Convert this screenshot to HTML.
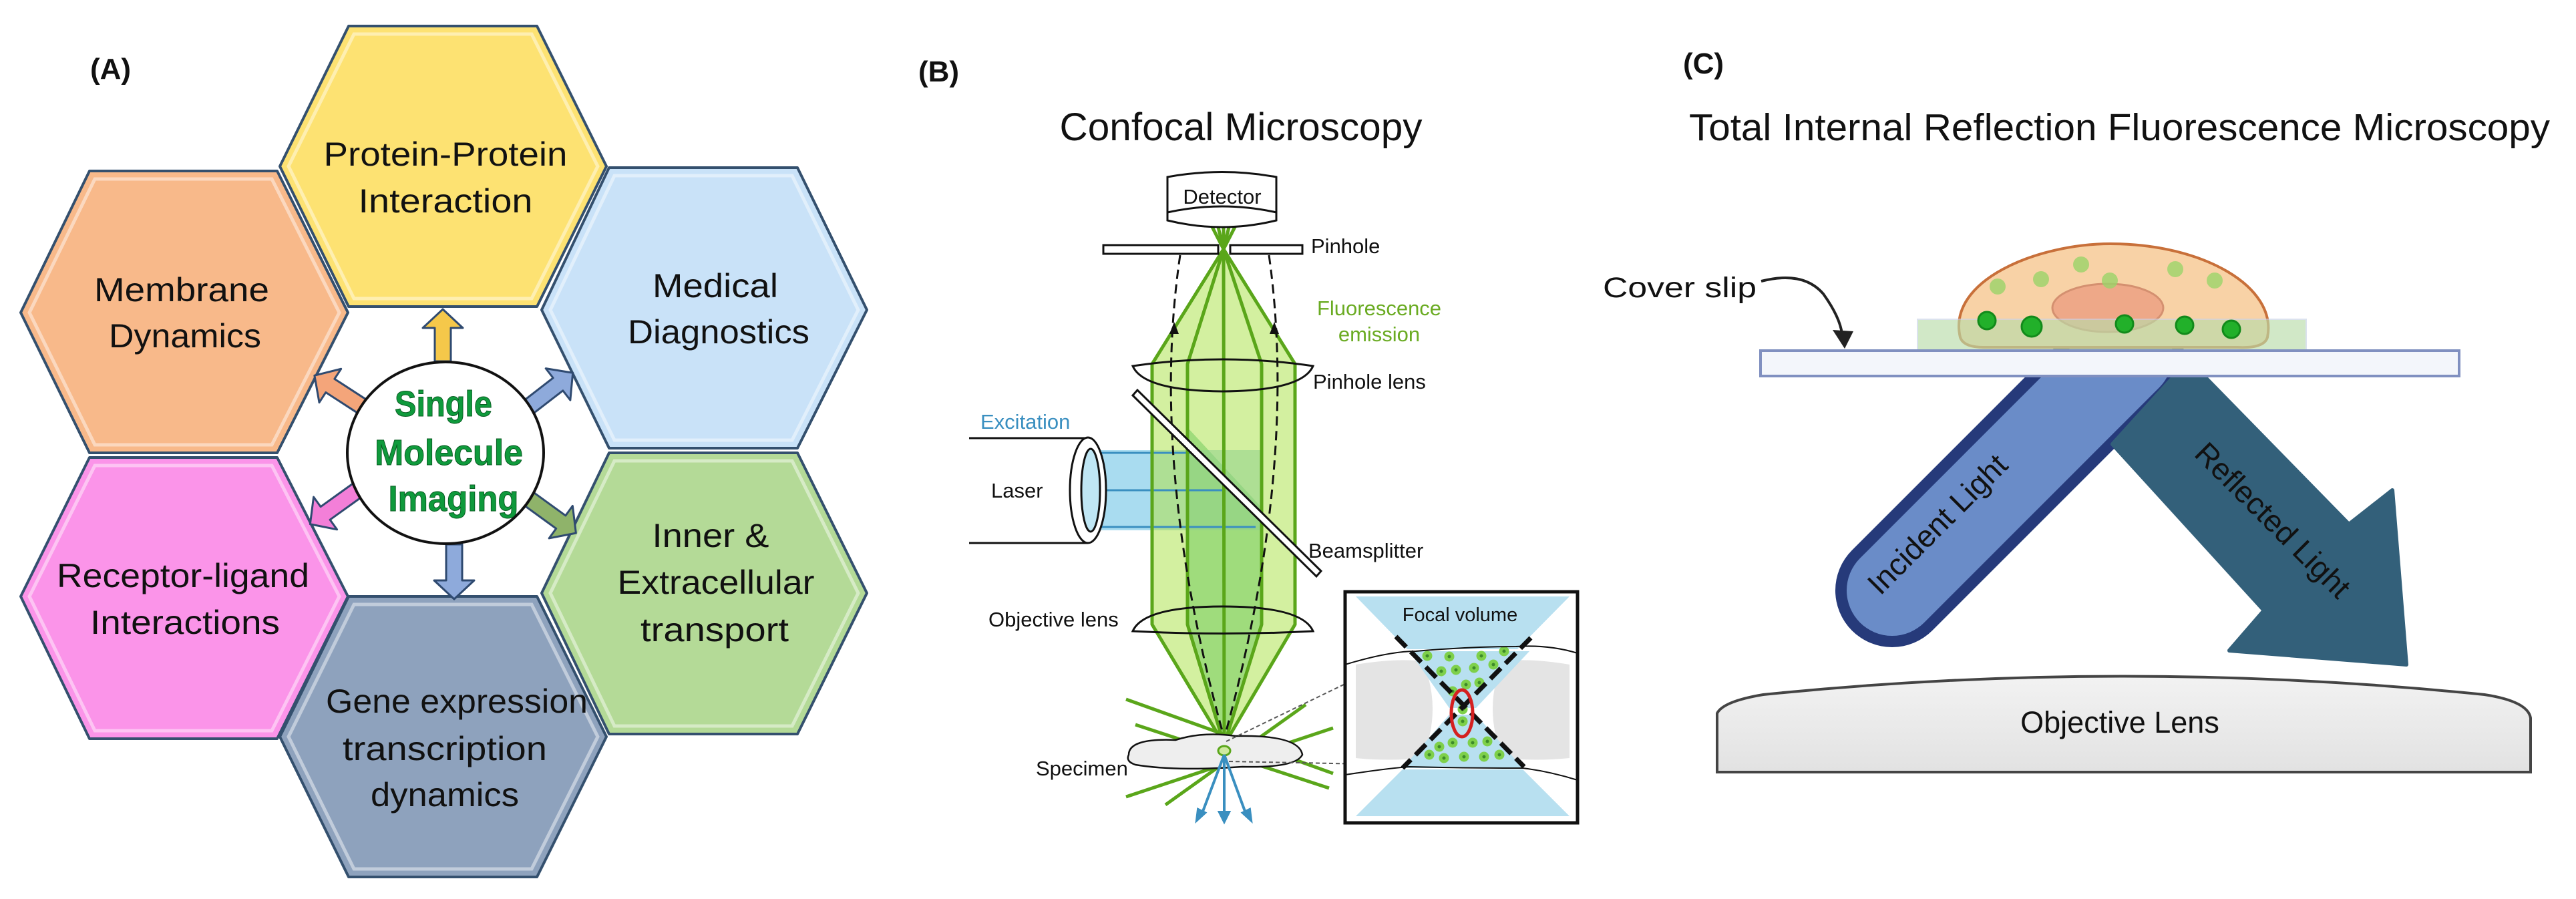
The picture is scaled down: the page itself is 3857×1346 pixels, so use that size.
<!DOCTYPE html>
<html><head><meta charset="utf-8"><style>
html,body{margin:0;padding:0;background:#fff;}
svg{display:block;}
text{font-family:"Liberation Sans",sans-serif;}
</style></head><body>
<svg width="3857" height="1346" viewBox="0 0 3857 1346" xmlns="http://www.w3.org/2000/svg">
<defs>
<linearGradient id="lg" x1="0" y1="0" x2="0" y2="1"><stop offset="0" stop-color="#f2f2f2"/><stop offset="1" stop-color="#e2e2e2"/></linearGradient>
<g id="arr"><path d="M0,-12 L0,12 L-1,12 Z"/></g>
</defs>

<!-- ================= PANEL A ================= -->
<text x="135" y="118" font-size="44" font-weight="bold" fill="#111">(A)</text>
<g stroke="#34506e" stroke-width="4" stroke-linejoin="round">
<polygon points="419,249 522,39 804,39 908,249 804,459 522,459" fill="#fde272"/>
<polygon points="31,468 134,256 415,256 521,468 415,678 134,678" fill="#f8b98a"/>
<polygon points="811,464 912,251 1194,251 1298,464 1194,671 912,671" fill="#c9e2f8"/>
<polygon points="31,893 134,685 415,685 521,893 415,1106 134,1106" fill="#fb94e9"/>
<polygon points="811,888 912,678 1194,678 1298,888 1194,1099 912,1099" fill="#b4da97"/>
<polygon points="419,1103 522,893 804,893 908,1103 804,1313 522,1313" fill="#8ea2bd"/>
</g>
<g fill="none" stroke="#ffffff" stroke-opacity="0.45" stroke-width="5">
<polygon points="432,249 530,51 796,51 895,249 796,447 530,447"/>
<polygon points="44,468 142,268 407,268 508,468 407,666 142,666"/>
<polygon points="824,464 920,263 1186,263 1285,464 1186,659 920,659"/>
<polygon points="44,893 142,697 407,697 508,893 407,1094 142,1094"/>
<polygon points="824,888 920,690 1186,690 1285,888 1186,1087 920,1087"/>
<polygon points="432,1103 530,905 796,905 895,1103 796,1301 530,1301"/>
</g>
<g font-size="50" fill="#111" text-anchor="middle">
<text x="667" y="248" textLength="365" lengthAdjust="spacingAndGlyphs">Protein-Protein</text>
<text x="667" y="318" textLength="261" lengthAdjust="spacingAndGlyphs">Interaction</text>
<text x="272" y="451" textLength="262" lengthAdjust="spacingAndGlyphs">Membrane</text>
<text x="277" y="520" textLength="228" lengthAdjust="spacingAndGlyphs">Dynamics</text>
<text x="1071" y="445" textLength="188" lengthAdjust="spacingAndGlyphs">Medical</text>
<text x="1076" y="514" textLength="272" lengthAdjust="spacingAndGlyphs">Diagnostics</text>
<text x="274" y="879" textLength="378" lengthAdjust="spacingAndGlyphs">Receptor-ligand</text>
<text x="277" y="949" textLength="284" lengthAdjust="spacingAndGlyphs">Interactions</text>
<text x="1064" y="819" textLength="175" lengthAdjust="spacingAndGlyphs">Inner &amp;</text>
<text x="1072" y="889" textLength="295" lengthAdjust="spacingAndGlyphs">Extracellular</text>
<text x="1070" y="960" textLength="222" lengthAdjust="spacingAndGlyphs">transport</text>
<text x="684" y="1067" textLength="392" lengthAdjust="spacingAndGlyphs">Gene expression</text>
<text x="666" y="1138" textLength="306" lengthAdjust="spacingAndGlyphs">transcription</text>
<text x="666" y="1207" textLength="222" lengthAdjust="spacingAndGlyphs">dynamics</text>
</g>
<!-- arrows -->
<g stroke="#2f4a70" stroke-width="3" stroke-linejoin="round">
<path transform="translate(663,541) rotate(-90)" d="M0,-12 L50,-12 L50,-30 L78,0 L50,30 L50,12 L0,12 Z" fill="#f5c84a"/>
<path transform="translate(680,815) rotate(90)" d="M0,-12 L54,-12 L54,-30 L82,0 L54,30 L54,12 L0,12 Z" fill="#8eaadb"/>
<path transform="translate(543,609) rotate(213)" d="M0,-12 L58,-12 L58,-30 L86,0 L58,30 L58,12 L0,12 Z" fill="#f4a57a"/>
<path transform="translate(792,609) rotate(-37.7)" d="M0,-12 L55,-12 L55,-30 L83,0 L55,30 L55,12 L0,12 Z" fill="#8eaadb"/>
<path transform="translate(535,734) rotate(144.3)" d="M0,-12 L59,-12 L59,-30 L87,0 L59,30 L59,12 L0,12 Z" fill="#f37fd8"/>
<path transform="translate(792,747) rotate(36)" d="M0,-12 L59,-12 L59,-30 L87,0 L59,30 L59,12 L0,12 Z" fill="#8fb36a"/>
</g>
<ellipse cx="667" cy="678" rx="147" ry="136" fill="#fff" stroke="#111" stroke-width="4"/>
<g font-size="54" font-weight="bold" fill="#0f9a3c" text-anchor="middle" stroke="#0a5a22" stroke-width="1">
<text x="664" y="623" textLength="146" lengthAdjust="spacingAndGlyphs">Single</text>
<text x="672" y="696" textLength="222" lengthAdjust="spacingAndGlyphs">Molecule</text>
<text x="679" y="765" textLength="195" lengthAdjust="spacingAndGlyphs">Imaging</text>
</g>

<!-- ================= PANEL B ================= -->
<text x="1375" y="122" font-size="44" font-weight="bold" fill="#111">(B)</text>
<text x="1858" y="210" font-size="58" fill="#111" text-anchor="middle" textLength="543" lengthAdjust="spacingAndGlyphs">Confocal Microscopy</text>

<!-- laser tube -->
<path d="M1451,656 L1629,656 M1451,813 L1629,813" stroke="#111" stroke-width="3" fill="none"/>
<rect x="1629" y="674" width="260" height="120" fill="#a9dcf0"/>
<!-- green envelope -->
<polygon points="1832,373 1939,545 1939,935 1833,1115 1725,935 1725,545" fill="#d3f0a0"/>
<polygon points="1778,640 1889,760 1889,935 1833,1110 1778,935" fill="#9fdc7c"/>
<rect x="1725" y="674" width="164" height="120" fill="#8fd28a" opacity="0.55"/>
<g stroke="#3a8fc0" stroke-width="3"><path d="M1629,678 H1790 M1629,734 H1835 M1629,789 H1880"/></g>
<g stroke="#5aa61a" stroke-width="5" fill="none" stroke-linejoin="round">
<path d="M1832,373 L1725,545 L1725,935 L1833,1115"/>
<path d="M1832,373 L1778,545 L1778,935 L1833,1115"/>
<path d="M1832,373 L1833,1115"/>
<path d="M1832,373 L1889,545 L1889,935 L1833,1115"/>
<path d="M1832,373 L1939,545 L1939,935 L1833,1115"/>
<path d="M1832,373 L1812,334 M1832,373 L1822,332 M1832,373 L1832,332 M1832,373 L1842,332 M1832,373 L1852,334"/>
<path d="M1686,1047 L1996,1158 M1686,1193 L1996,1090 M1700,1085 L1990,1180 M1745,1205 L1955,1055"/>
</g>
<g stroke="#111" stroke-width="3" fill="none" stroke-dasharray="14 8">
<path d="M1767,382 Q1720,700 1833,1105"/>
<path d="M1900,382 Q1945,700 1833,1105"/>
</g>
<g fill="#111"><path d="M1758,482 l-7,18 h14 z"/><path d="M1908,482 l-7,18 h14 z"/></g>
<!-- laser ring -->
<ellipse cx="1629" cy="734" rx="27" ry="79" fill="#fff" stroke="#111" stroke-width="3"/>
<ellipse cx="1633" cy="734" rx="14" ry="62" fill="#bfe6f4" stroke="#111" stroke-width="3"/>
<!-- detector -->
<path d="M1748,265 Q1830,250 1911,265 L1911,330 Q1830,350 1748,330 Z" fill="#fff" stroke="#111" stroke-width="3"/>
<path d="M1748,318 Q1830,300 1911,318" fill="none" stroke="#111" stroke-width="3"/>
<text x="1830" y="305" font-size="31" fill="#111" text-anchor="middle">Detector</text>
<!-- pinhole -->
<path d="M1652,367 H1824 V380 H1652 Z M1842,367 H1950 V380 H1842 Z" fill="#fff" stroke="#111" stroke-width="3"/>
<text x="1963" y="379" font-size="31" fill="#111">Pinhole</text>
<text x="2065" y="472" font-size="31" fill="#6aab22" text-anchor="middle">Fluorescence</text>
<text x="2065" y="511" font-size="31" fill="#6aab22" text-anchor="middle">emission</text>
<!-- lenses -->
<path d="M1696,548 Q1831,528 1966,548 Q1950,585 1831,586 Q1712,585 1696,548 Z" fill="none" stroke="#111" stroke-width="3"/>
<text x="1966" y="582" font-size="31" fill="#111">Pinhole lens</text>
<path d="M1696,945 Q1712,908 1831,908 Q1950,908 1966,945 Q1831,952 1696,945 Z" fill="none" stroke="#111" stroke-width="3"/>
<text x="1480" y="938" font-size="31" fill="#111">Objective lens</text>
<!-- beamsplitter -->
<polygon points="1696,592 1703,584 1978,855 1971,863" fill="#fff" stroke="#111" stroke-width="3"/>
<text x="1959" y="835" font-size="31" fill="#111">Beamsplitter</text>
<text x="1468" y="642" font-size="31" fill="#3a8fc0">Excitation</text>
<text x="1484" y="745" font-size="31" fill="#111">Laser</text>
<!-- specimen -->
<path d="M1690,1130 Q1690,1105 1760,1108 Q1800,1095 1850,1102 Q1945,1100 1950,1130 Q1940,1150 1860,1148 Q1760,1155 1700,1145 Q1685,1140 1690,1130 Z" fill="#eeeeee" stroke="#111" stroke-width="2.5"/>
<ellipse cx="1833" cy="1124" rx="9" ry="7" fill="#cfe8a0" stroke="#5aa61a" stroke-width="3"/>
<text x="1551" y="1161" font-size="31" fill="#111">Specimen</text>
<g stroke="#3a8fc0" stroke-width="4" fill="#3a8fc0">
<path d="M1833,1130 L1799,1220 M1833,1130 L1833,1220 M1833,1130 L1866,1220" fill="none"/>
<path d="M1792,1228 l2,-16 l10,5 z M1833,1230 l-7,-14 h14 z M1873,1228 l-12,-11 l10,-5 z"/>
</g>
<g stroke="#555" stroke-width="2" stroke-dasharray="6 4" fill="none">
<path d="M1836,1110 L2105,980"/><path d="M1840,1140 L2100,1145"/>
</g>
<!-- inset -->
<rect x="2014" y="886" width="348" height="346" fill="#fff" stroke="#111" stroke-width="5"/>
<path d="M2030,995 Q2090,985 2130,990 Q2160,1060 2130,1135 Q2080,1140 2030,1135 Z" fill="#e4e4e4"/>
<path d="M2350,995 Q2290,985 2250,990 Q2220,1060 2250,1135 Q2300,1140 2350,1135 Z" fill="#e4e4e4"/>
<polygon points="2030,893 2350,893 2272,972 2107,972" fill="#b8e0f0"/>
<polygon points="2110,975 2290,975 2210,1060 2170,1060" fill="#b8e0f0"/>
<polygon points="2170,1070 2210,1070 2280,1150 2100,1150" fill="#b8e0f0"/>
<polygon points="2100,1152 2280,1152 2350,1222 2030,1222" fill="#b8e0f0"/>
<g fill="#3d8a2a" stroke="#7ed04a" stroke-width="5">
<circle cx="2137" cy="982" r="5"/><circle cx="2170" cy="983" r="5"/><circle cx="2218" cy="982" r="5"/><circle cx="2252" cy="975" r="5"/>
<circle cx="2158" cy="1005" r="5"/><circle cx="2180" cy="1003" r="5"/><circle cx="2207" cy="1000" r="5"/><circle cx="2236" cy="995" r="5"/>
<circle cx="2195" cy="1025" r="5"/><circle cx="2215" cy="1022" r="5"/><circle cx="2175" cy="1035" r="5"/>
<circle cx="2155" cy="1118" r="5"/><circle cx="2175" cy="1112" r="5"/><circle cx="2205" cy="1112" r="5"/><circle cx="2227" cy="1110" r="5"/>
<circle cx="2140" cy="1130" r="5"/><circle cx="2162" cy="1135" r="5"/><circle cx="2192" cy="1133" r="5"/><circle cx="2222" cy="1133" r="5"/><circle cx="2245" cy="1130" r="5"/>
<circle cx="2190" cy="1062" r="5"/><circle cx="2190" cy="1080" r="5"/>
</g>
<g fill="none" stroke="#111" stroke-width="2">
<path d="M2014,995 Q2080,975 2120,975 Q2200,968 2270,968 Q2320,965 2362,978"/>
<path d="M2014,1160 Q2080,1150 2110,1148 Q2200,1150 2280,1150 Q2320,1155 2362,1168"/>
</g>
<g stroke="#111" stroke-width="7" stroke-dasharray="22 10"><path d="M2090,953 L2282,1148"/><path d="M2292,955 L2100,1150"/></g>
<ellipse cx="2189" cy="1068" rx="16" ry="35" fill="none" stroke="#d42020" stroke-width="5"/>
<text x="2186" y="930" font-size="29" fill="#111" text-anchor="middle">Focal volume</text>

<!-- ================= PANEL C ================= -->
<text x="2520" y="110" font-size="44" font-weight="bold" fill="#111">(C)</text>
<text x="2529" y="210" font-size="57" fill="#111" textLength="1289" lengthAdjust="spacingAndGlyphs">Total Internal Reflection Fluorescence Microscopy</text>
<text x="2400" y="445" font-size="43" fill="#111" textLength="230" lengthAdjust="spacingAndGlyphs">Cover slip</text>
<path d="M2637,421 Q2700,405 2730,440 Q2755,475 2758,500" fill="none" stroke="#222" stroke-width="4"/>
<path d="M2744,494 L2775,496 L2762,522 Z" fill="#222"/>
<!-- incident light -->
<path d="M2833,884 L3185,532" stroke="#263a7a" stroke-width="170" stroke-linecap="round"/>
<path d="M2833,884 L3185,532" stroke="#6a8cc8" stroke-width="136" stroke-linecap="round"/>
<!-- reflected -->
<polygon points="3262,556 3293,556 3517,785 3582,734 3603,995 3338,974 3390,914 3163,665" fill="#33607a" stroke="#33607a" stroke-width="6" stroke-linejoin="round"/>
<text transform="translate(2912,796) rotate(-45)" font-size="46" fill="#111" text-anchor="middle">Incident Light</text>
<text transform="translate(3392,790) rotate(45)" font-size="46" fill="#111" text-anchor="middle">Reflected Light</text>
<!-- cell -->
<path d="M2935,505 C2915,420 3050,365 3160,365 C3300,365 3410,430 3395,505 Q3390,522 3350,520 L2970,520 Q2940,520 2935,505 Z" fill="#f8d2a6" stroke="#c8703a" stroke-width="4"/>
<ellipse cx="3156" cy="461" rx="83" ry="36" fill="#eea888" stroke="#d49070" stroke-width="3"/>
<g fill="#9bd46a" opacity="0.8">
<circle cx="2991" cy="429" r="12"/><circle cx="3056" cy="418" r="12"/><circle cx="3116" cy="396" r="12"/><circle cx="3159" cy="420" r="12"/><circle cx="3257" cy="403" r="12"/><circle cx="3316" cy="420" r="12"/>
</g>
<rect x="2871" y="478" width="582" height="47" fill="#b9dcaa" opacity="0.65" stroke="#c8d4e6" stroke-width="2"/>
<g fill="#22b02a" stroke="#128a1a" stroke-width="3">
<circle cx="2975" cy="480" r="13"/><circle cx="3042" cy="489" r="15"/><circle cx="3181" cy="485" r="13"/><circle cx="3271" cy="487" r="13"/><circle cx="3341" cy="493" r="13"/>
</g>
<!-- cover slip -->
<rect x="2636" y="525" width="1046" height="38" fill="#f3f6fb" stroke="#8090c0" stroke-width="4"/>
<!-- objective lens -->
<path d="M2571,1068 Q2580,1050 2640,1040 Q3180,985 3720,1040 Q3785,1050 3789,1075 L3789,1156 L2571,1156 Z" fill="url(#lg)" stroke="#444" stroke-width="4"/>
<text x="3174" y="1097" font-size="45" fill="#111" text-anchor="middle">Objective Lens</text>
</svg>
</body></html>
